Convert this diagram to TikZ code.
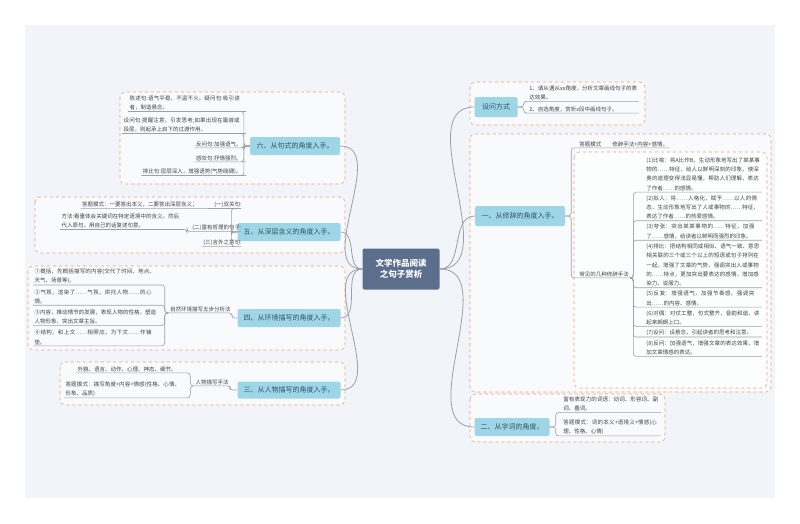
\documentclass[tikz,border=0pt]{standalone}
\usepackage{fontspec}
\setmainfont{Noto Sans CJK SC}
\XeTeXlinebreaklocale "zh"
\XeTeXlinebreakskip=0pt plus 1pt
\usetikzlibrary{calc}
\definecolor{panel}{HTML}{F1F4F8}
\definecolor{boxc}{HTML}{9ED6E8}
\definecolor{boxt}{HTML}{2E5566}
\definecolor{ctr}{HTML}{5B6E8C}
\definecolor{orng}{HTML}{F0A273}
\definecolor{lnc}{HTML}{9AA1AA}
\definecolor{txc}{HTML}{444444}
\tikzset{
  ln/.style={draw=lnc,line width=0.6pt,rounded corners=3pt},
  mainln/.style={draw=lnc,line width=0.8pt},
  grp/.style={draw=orng,dashed,line width=0.6pt,rounded corners=5pt,fill=white,fill opacity=0.6},
  topic/.style={fill=boxc,text=boxt,rounded corners=2pt,font=\fontsize{7}{8}\selectfont,inner sep=0pt,align=center},
  leaf/.style={text=txc,font=\fontsize{5.5}{9.4}\selectfont,inner sep=1.2pt,align=left},
  lw/.style={leaf,anchor=north west},
  le/.style={leaf,anchor=north east},
}
\begin{document}
\begin{tikzpicture}[x=1pt,y=-1pt]
\useasboundingbox (0,0) rectangle (800,523);
\fill[white] (0,0) rectangle (800,523);
\fill[panel] (25,25) rectangle (775,498);

% containers
\path[grp] (470,82) rectangle (645,125);
\path[grp] (470,134) rectangle (771,392);
\path[grp] (574,152) rectangle (767,388);
\path[grp] (470,394) rectangle (665,442);
\path[grp] (120,92) rectangle (345,184);
\path[grp] (35,197) rectangle (345,253);
\path[grp] (28,266) rectangle (345,350);
\path[grp] (60,362) rectangle (345,405);

% center
\node[fill=ctr,text=white,rounded corners=2pt,minimum width=77pt,minimum height=41pt,font=\bfseries\fontsize{8.5}{11}\selectfont,align=center] (c) at (401,269) {文学作品阅读\\之句子赏析};

% topics
\node[topic,minimum width=43pt,minimum height=20pt] (bq) at (496,107) {设问方式};
\node[topic,minimum width=90pt,minimum height=20pt] (b1) at (520,216) {一、从修辞的角度入手。};
\node[topic,minimum width=75pt,minimum height=18pt] (b2) at (512,427) {二、从字词的角度。};
\node[topic,minimum width=90pt,minimum height=18pt] (b6) at (295,146) {六、从句式的角度入手。};
\node[topic,minimum width=103pt,minimum height=18pt] (b5) at (289,232) {五、从深层含义的角度入手。};
\node[topic,minimum width=103pt,minimum height=18pt] (b4) at (289,318) {四、从环境描写的角度入手。};
\node[topic,minimum width=103pt,minimum height=17pt] (b3) at (289,390) {三、从人物描写的角度入手。};

% main connectors
\foreach \b in {bq,b1,b2} \draw[mainln] (c.east) to[out=0,in=180] (\b.west);
\foreach \b in {b6,b5,b4,b3} \draw[mainln] (c.west) to[out=180,in=0] (\b.east);

% 设问方式
\node[lw,text width=108pt] (q1) at (528,84) {1、请从遇从xx角度，分析文章画线句子的表达效果。};
\node[lw,text width=108pt] (q2) at (528,105) {2、自选角度，赏析x段中画线句子。};
\foreach \n in {q1,q2} \draw[ln] (bq.east) -- ++(6,0) |- (\n.south west) -- (\n.south east);

% 一
\node[lw] (d1) at (578,140) {答题模式\quad\quad 修辞手法+内容+感情。};
\node[lw] (d2) at (578,270) {常见的几种修辞手法};
\foreach \n in {d1,d2} \draw[ln] (b1.east) -- ++(6,0) |- (\n.south west) -- (\n.south east);
\node[lw,text width=114pt] (r1) at (645,156) {(1)比喻：将A比作B，生动形象地写出了某某事物的……特征，给人以鲜明深刻的印象，使深奥的道理变得浅显易懂，帮助人们理解，表达了作者……的感情。};
\node[lw,text width=114pt] (r2) at ($(r1.south west)+(0,2)$) {(2)拟人：将……人格化，赋予……以人的情态，生动形象地写出了人或事物的……特征，表达了作者……的热爱感情。};
\node[lw,text width=114pt] (r3) at ($(r2.south west)+(0,2)$) {(3)夸张：突出某某事物的……特征，加强了……感情，给读者以鲜明而强烈的印象。};
\node[lw,text width=114pt] (r4) at ($(r3.south west)+(0,2)$) {(4)排比：把结构相同或相似、语气一致、意思相关联的三个或三个以上的短语或句子排列在一起，增强了文章的气势，强调突出人或事物的……特点，更加突出要表达的感情，增加感染力、说服力。};
\node[lw,text width=114pt] (r5) at ($(r4.south west)+(0,2)$) {(5)反复：增强语气，加强节奏感，强调突出……的内容、感情。};
\node[lw,text width=114pt] (r6) at ($(r5.south west)+(0,2)$) {(6)对偶：对仗工整，句式整齐，音韵和谐，读起来朗朗上口。};
\node[lw,text width=114pt] (r7) at ($(r6.south west)+(0,2)$) {(7)设问：设悬念，引起读者的思考和注意。};
\node[lw,text width=114pt] (r8) at ($(r7.south west)+(0,2)$) {(8)反问：加强语气，增强文章的表达效果，增加文章情感的表达。};
\foreach \n in {r1,r2,r3,r4,r5,r6,r7,r8} \draw[ln] (d2.south east) -- ++(3,0) |- (\n.south west) -- (\n.south east);

% 二
\node[lw,text width=96pt] (e1) at (562,395) {富有表现力的词语：动词、形容词、副词、叠词。};
\node[lw,text width=96pt] (e2) at (562,418) {答题模式：词的本义+语境义+情感(心理、性格、心情)};
\foreach \n in {e1,e2} \draw[ln] (b2.east) -- ++(6,0) |- (\n.south west) -- (\n.south east);

% 六
\node[le,text width=112pt] (l1) at (243,94) {陈述句:语气平稳、不温不火。疑问句:吸引读者，制造悬念。};
\node[le,text width=118pt] (l2) at (243,116) {设问句:提醒注意，引发思考;如果出现在篇首或段尾，则起承上启下的过渡作用。};
\node[le] (l3) at (243,140) {反问句:加强语气。};
\node[le] (l4) at (243,154) {感叹句:抒情强烈。};
\node[le] (l5) at (243,167) {排比句:层层深入，增强语势(气势磅礴)。};
\foreach \n in {l1,l2,l3,l4,l5} \draw[ln] (b6.west) -- ++(-6,0) |- (\n.south east) -- (\n.south west);

% 五
\node[le] (f1) at (243,200) {(一)双关句:};
\node[le] (f2) at (243,223) {(二)富有哲理的句子:};
\node[le] (f3) at (243,238) {(三)言外之意句:};
\foreach \n in {f1,f2,f3} \draw[ln] (b5.west) -- ++(-6,0) |- (\n.south east) -- (\n.south west);
\node[le] (f1a) at ($(f1.north west)+(-14,0)$) {答题模式：一要答出本义，二要答出深层含义；};
\draw[ln] (f1.south west) -- (f1a.south east) -- (f1a.south west);
\node[le,text width=118pt] (f2a) at ($(f2.north west)+(-10,-11)$) {方法:看重体会关键词在特定语境中的含义。然后代入原句，用自己的话复述句意。};
\draw[ln] (f2.south west) -- ++(-4,0) |- (f2a.south east) -- (f2a.south west);

% 四
\node[le] (g) at (232,305) {自然环境描写五步分析法};
\draw[ln] (b4.west) -- (g.south east |- b4.west) -- (g.south east) -- (g.south west);
\node[le,text width=122pt] (g1) at (158,267) {①概括，先概括描写的内容(交代了时间、地点、天气、场景等)。};
\node[le,text width=122pt] (g2) at ($(g1.south east)+(0,3)$) {②气氛，渲染了……气氛，烘托人物……的心情。};
\node[le,text width=122pt] (g3) at ($(g2.south east)+(0,3)$) {③内容，推动情节的发展，表现人物的性格，塑造人物形象，突出文章主旨。};
\node[le,text width=122pt] (g4) at ($(g3.south east)+(0,3)$) {④结构，和上文……相照应，为下文……作铺垫。};
\foreach \n in {g1,g2,g3,g4} \draw[ln] (g.south west) -- ++(-4,0) |- (\n.south east) -- (\n.south west);

% 三
\node[le] (h) at (230,378) {人物描写手法};
\draw[ln] (b3.west) -- (h.south east |- b3.west) -- (h.south east) -- (h.south west);
\node[le,text width=104pt] (h1) at (183,365) {外貌、语言、动作、心理、神态、细节。};
\node[le,text width=116pt] (h2) at (183,380) {答题模式：描写角度+内容+情感(性格、心情、形象、品质)};
\foreach \n in {h1,h2} \draw[ln] (h.south west) -- ++(-4,0) |- (\n.south east) -- (\n.south west);
\end{tikzpicture}
\end{document}
